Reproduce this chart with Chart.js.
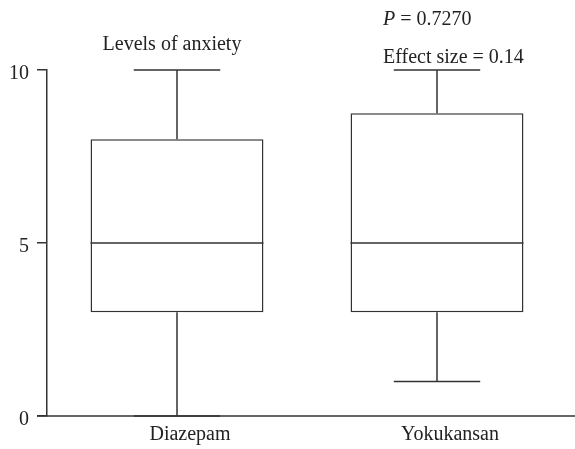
<!DOCTYPE html>
<html>
<head>
<meta charset="utf-8">
<script src="https://cdn.jsdelivr.net/npm/chart.js@4/dist/chart.umd.min.js"></script>
<style>
  html, body { margin: 0; padding: 0; background: #fff; }
  canvas { display: block; }
</style>
</head>
<body>
<canvas id="grafica" width="575" height="449"></canvas>
<script>
// datos del box plot
const categorias = ['Diazepam', 'Yokukansan'];
const minimos = [0, 1];
const cuartil1 = [3, 3];
const medianas = [5, 5];
const cuartil3 = [8, 8.75];
const maximos = [10, 10];
const ticksY = [0, 5, 10];

const tituloGrafica = 'Levels of anxiety';
const textoP = ['P', ' = 0.7270'];
const textoEfecto = 'Effect size = 0.14';

const colorLinea = '#333';
const fuente = "'Liberation Serif', 'Times New Roman', serif";

// plugin que dibuja bigotes, medianas, eje x y textos
const bigotesPlugin = {
    id: 'bigotes',
    afterDatasetsDraw(chart) {
        const ctx = chart.ctx;
        const y = chart.scales.y;
        const x = chart.scales.x;
        const meta = chart.getDatasetMeta(0);
        ctx.save();
        ctx.strokeStyle = colorLinea;
        ctx.lineWidth = 1.5;
        meta.data.forEach((barra, i) => {
            const cx = barra.x;
            const mitad = barra.width / 2;
            const tapa = barra.width / 4;
            const yMin = y.getPixelForValue(minimos[i]);
            const yQ1 = y.getPixelForValue(cuartil1[i]);
            const yMed = y.getPixelForValue(medianas[i]);
            const yQ3 = y.getPixelForValue(cuartil3[i]);
            const yMax = y.getPixelForValue(maximos[i]);
            ctx.beginPath();
            // bigote superior
            ctx.moveTo(cx, yQ3); ctx.lineTo(cx, yMax);
            ctx.moveTo(cx - tapa, yMax); ctx.lineTo(cx + tapa, yMax);
            // bigote inferior
            ctx.moveTo(cx, yQ1); ctx.lineTo(cx, yMin);
            ctx.moveTo(cx - tapa, yMin); ctx.lineTo(cx + tapa, yMin);
            // mediana
            ctx.moveTo(cx - mitad, yMed); ctx.lineTo(cx + mitad, yMed);
            ctx.stroke();
        });
        // eje x
        const y0 = y.getPixelForValue(0);
        ctx.beginPath();
        ctx.moveTo(chart.chartArea.left - 10, y0);
        ctx.lineTo(chart.width, y0);
        ctx.stroke();

        // textos
        ctx.fillStyle = '#222';
        ctx.font = '20px ' + fuente;
        ctx.textBaseline = 'alphabetic';
        ctx.textAlign = 'center';
        ctx.fillText(tituloGrafica, x.getPixelForValue(0) - 5, 50);

        ctx.textAlign = 'left';
        const xTexto = x.getPixelForValue(1) - 54;
        ctx.font = 'italic 20px ' + fuente;
        ctx.fillText(textoP[0], xTexto, 25);
        const anchoP = ctx.measureText(textoP[0]).width;
        ctx.font = '20px ' + fuente;
        ctx.fillText(textoP[1], xTexto + anchoP, 25);
        ctx.fillText(textoEfecto, xTexto, 63);
        ctx.restore();
    }
};

const datosCajas = categorias.map((c, i) => [cuartil1[i], cuartil3[i]]);

new Chart(document.getElementById('grafica'), {
    type: 'bar',
    data: {
        labels: categorias,
        datasets: [{
            label: 'Levels of anxiety',
            data: datosCajas,
            backgroundColor: '#fff',
            borderColor: colorLinea,
            borderWidth: 1.5,
            borderSkipped: false,
            categoryPercentage: 1,
            barPercentage: 0.665
        }]
    },
    options: {
        responsive: false,
        animation: false,
        layout: { padding: { top: 70, right: 8, left: 0, bottom: 0 } },
        plugins: {
            legend: { display: false },
            tooltip: { enabled: false },
            title: { display: false }
        },
        scales: {
            x: {
                afterFit: (s) => { s.height = 33; },
                border: { display: false },
                grid: { display: true, drawOnChartArea: false, drawTicks: false },
                ticks: { color: '#222', padding: 7, labelOffset: 13, font: { family: fuente, size: 20 } }
            },
            y: {
                min: 0,
                max: 10,
                afterFit: (s) => { s.width = 47; },
                afterBuildTicks: (s) => { s.ticks = ticksY.map(v => ({ value: v })); },
                border: { display: true, color: colorLinea, width: 1.5 },
                grid: { drawOnChartArea: false, drawTicks: true, tickLength: 10, color: colorLinea, lineWidth: 1.5 },
                ticks: { color: '#222', padding: 8, labelOffset: 4, font: { family: fuente, size: 20 } }
            }
        }
    },
    plugins: [bigotesPlugin]
});
</script>
</body>
</html>
